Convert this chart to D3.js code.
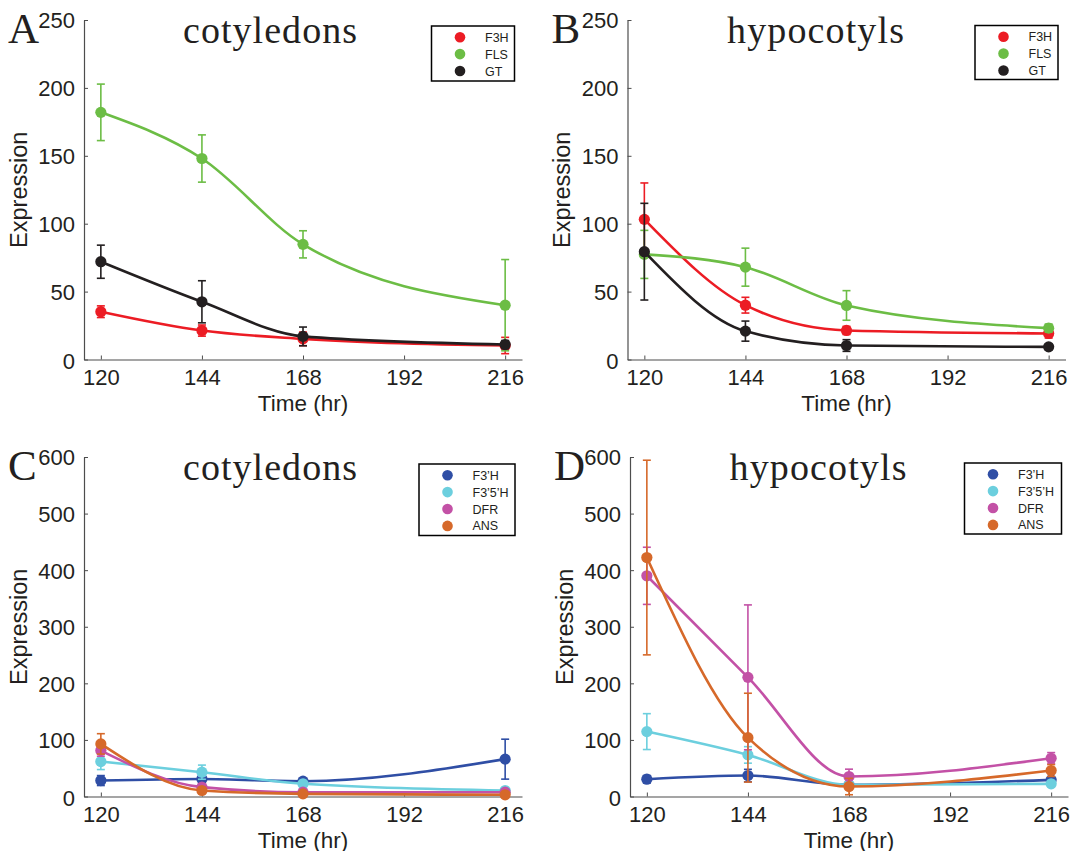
<!DOCTYPE html>
<html>
<head>
<meta charset="utf-8">
<script src="https://cdn.jsdelivr.net/npm/d3@7"></script>
<style>
  body { margin: 0; background: #fff; }
  svg { display: block; }
</style>
</head>
<body>
<div id="chart"></div>
<script>
// sampling times (hr) and axis ticks
const times = [120, 144, 168, 216];
const xTicks = [120, 144, 168, 192, 216];
const yTicksTop = [0, 50, 100, 150, 200, 250];
const yTicksBottom = [0, 100, 200, 300, 400, 500, 600];

const flavGenes = ["F3H", "FLS", "GT"];
const anthoGenes = ["F3\u2019H", "F3\u20195\u2019H", "DFR", "ANS"];

// A: cotyledons, flavonol genes (mean, error)
const cotF3H = [35.2, 21.3, 15.2, 10.3];
const cotF3HErr = [4.3, 4.1, 5, 6];
const cotFLS = [182, 148, 84.8, 40];
const cotFLSErr = [20.8, 17.4, 10, 33.6];
const cotGT = [72, 42.5, 17, 11];
const cotGTErr = [12.2, 15.5, 6.9, 3];

// B: hypocotyls, flavonol genes
const hypF3H = [103.2, 40, 21.4, 19.2];
const hypF3HErr = [26.8, 5.8, 3, 3.4];
const hypFLS = [77.4, 68, 39.8, 23.1];
const hypFLSErr = [17.7, 14, 10.9, 3];
const hypGT = [79.4, 20.9, 10.3, 9.3];
const hypGTErr = [35.6, 7.4, 4.3, 2];

// C: cotyledons, anthocyanin genes
const cotF3pH = [28.2, 31, 27, 66];
const cotF3pHErr = [8.8, 5, 4, 35.3];
const cotF35H = [61.8, 43, 22.4, 10.6];
const cotF35HErr = [14.2, 12.5, 4, 3];
const cotDFR = [81.2, 16.5, 7.6, 7.6];
const cotDFRErr = [10, 4, 2, 2];
const cotANS = [93, 10.6, 4.7, 3];
const cotANSErr = [18, 3, 2, 2];

// D: hypocotyls, anthocyanin genes
const hypF3pH = [30.6, 37, 20.6, 29.4];
const hypF3pHErr = [6.5, 11, 3, 4];
const hypF35H = [114.7, 73.5, 20.6, 22.4];
const hypF35HErr = [31.7, 14.6, 4, 4];
const hypDFR = [390, 210.6, 35.3, 67.6];
const hypDFRErr = [50.5, 128, 13, 10];
const hypANS = [422.3, 104, 17.6, 45.9];
const hypANSErr = [172, 78.5, 14.5, 10.5];

const flavColours = ["#ec1c24", "#6cbd45", "#231f20"];
const anthoColours = ["#2f4ea5", "#6ccfde", "#c351a6", "#d6692a"];

const w = 1071;
const h = 851;

const svg = d3
  .select("#chart")
  .append("svg")
  .attr("width", w)
  .attr("height", h);

const panels = [
  {
    letter: "A", title: "cotyledons", left: 84, top: 20, yMax: 250, yTicks: yTicksTop,
    genes: flavGenes, colours: flavColours,
    means: [cotF3H, cotFLS, cotGT], errs: [cotF3HErr, cotFLSErr, cotGTErr],
    legend: { x: 431.5, y: 26, w: 83, h: 55 }
  },
  {
    letter: "B", title: "hypocotyls", left: 627.5, top: 20, yMax: 250, yTicks: yTicksTop,
    genes: flavGenes, colours: flavColours,
    means: [hypF3H, hypFLS, hypGT], errs: [hypF3HErr, hypFLSErr, hypGTErr],
    legend: { x: 975, y: 25.5, w: 83, h: 54 }
  },
  {
    letter: "C", title: "cotyledons", left: 84, top: 457, yMax: 600, yTicks: yTicksBottom,
    genes: anthoGenes, colours: anthoColours,
    means: [cotF3pH, cotF35H, cotDFR, cotANS], errs: [cotF3pHErr, cotF35HErr, cotDFRErr, cotANSErr],
    legend: { x: 419, y: 464, w: 96, h: 71.5 }
  },
  {
    letter: "D", title: "hypocotyls", left: 630, top: 457, yMax: 600, yTicks: yTicksBottom,
    genes: anthoGenes, colours: anthoColours,
    means: [hypF3pH, hypF35H, hypDFR, hypANS], errs: [hypF3pHErr, hypF35HErr, hypDFRErr, hypANSErr],
    legend: { x: 964.5, y: 463, w: 97, h: 71 }
  }
];

const plotW = 438;
const plotH = 339.5;
const axisColour = "#4d4d4d";
const textColour = "#231f20";
const sans = "'Liberation Sans', Arial, sans-serif";
const serif = "'Liberation Serif', 'Times New Roman', serif";

panels.forEach(drawPanel);

function drawPanel(p) {
  const g = svg.append("g").attr("transform", `translate(${p.left},${p.top})`);

  const xScale = d3.scaleLinear().domain([116, 220]).range([0, plotW]);
  const yScale = d3.scaleLinear().domain([0, p.yMax]).range([plotH, 0]);

  // axes, MATLAB style: inward ticks, no box
  const xAxis = g
    .append("g")
    .attr("transform", `translate(0,${plotH})`)
    .call(d3.axisBottom(xScale).tickValues(xTicks).tickSizeInner(-4).tickSizeOuter(0));
  const yAxis = g
    .append("g")
    .call(d3.axisLeft(yScale).tickValues(p.yTicks).tickSizeInner(-4).tickSizeOuter(0).tickPadding(9));

  [xAxis, yAxis].forEach((ax) => {
    ax.select(".domain").attr("stroke", axisColour).attr("stroke-width", 1.2);
    ax.selectAll(".tick line").attr("stroke", axisColour).attr("stroke-width", 1);
    ax.selectAll(".tick text")
      .attr("fill", textColour)
      .style("font-family", sans)
      .style("font-size", "22px");
  });
  xAxis.selectAll(".tick text").attr("dy", null).attr("y", 25.5);
  yAxis.selectAll(".tick text").attr("dy", (d) => (d === 0 ? "0.42em" : "0.36em"));

  g.append("text")
    .attr("x", plotW / 2)
    .attr("y", plotH + 51)
    .attr("text-anchor", "middle")
    .attr("fill", textColour)
    .style("font-family", sans)
    .style("font-size", "22.5px")
    .text("Time (hr)");

  g.append("text")
    .attr("transform", `translate(-57.5,${plotH / 2}) rotate(-90)`)
    .attr("text-anchor", "middle")
    .attr("fill", textColour)
    .style("font-family", sans)
    .style("font-size", "23.5px")
    .text("Expression");

  // panel letter and title
  svg.append("text")
    .attr("x", p.left - 76)
    .attr("y", p.top + 23)
    .attr("fill", textColour)
    .style("font-family", serif)
    .style("font-size", "43px")
    .text(p.letter);

  g.append("text")
    .attr("x", p.title === "cotyledons" ? 186 : 188)
    .attr("y", 22.5)
    .attr("text-anchor", "middle")
    .attr("fill", textColour)
    .style("font-family", serif)
    .style("font-size", "38px")
    .attr("textLength", p.title === "cotyledons" ? 174 : 177)
    .attr("lengthAdjust", "spacing")
    .text(p.title);

  const line = d3
    .line()
    .x((d) => xScale(d.t))
    .y((d) => yScale(d.v))
    .curve(d3.curveMonotoneX);

  const series = p.genes.map((gene, i) => ({
    gene,
    colour: p.colours[i],
    points: times.map((t, j) => ({ t, v: p.means[i][j], e: p.errs[i][j] }))
  }));

  const s = g
    .selectAll("g.series")
    .data(series)
    .enter()
    .append("g")
    .attr("class", "series");

  s.append("path")
    .attr("d", (d) => line(d.points))
    .attr("fill", "none")
    .attr("stroke", (d) => d.colour)
    .attr("stroke-width", 2.6);

  const bars = s
    .selectAll("g.err")
    .data((d) => d.points.map((pt) => ({ ...pt, colour: d.colour })))
    .enter()
    .append("g")
    .attr("class", "err")
    .attr("stroke", (d) => d.colour)
    .attr("stroke-width", 1.6);

  bars.append("line")
    .attr("x1", (d) => xScale(d.t))
    .attr("x2", (d) => xScale(d.t))
    .attr("y1", (d) => yScale(d.v - d.e))
    .attr("y2", (d) => yScale(d.v + d.e));
  [-1, 1].forEach((sign) => {
    bars.append("line")
      .attr("x1", (d) => xScale(d.t) - 4)
      .attr("x2", (d) => xScale(d.t) + 4)
      .attr("y1", (d) => yScale(d.v + sign * d.e))
      .attr("y2", (d) => yScale(d.v + sign * d.e));
  });

  s.selectAll("circle")
    .data((d) => d.points.map((pt) => ({ ...pt, colour: d.colour })))
    .enter()
    .append("circle")
    .attr("cx", (d) => xScale(d.t))
    .attr("cy", (d) => yScale(d.v))
    .attr("r", 5.6)
    .attr("fill", (d) => d.colour);

  // legend
  const L = p.legend;
  const lg = svg.append("g").attr("transform", `translate(${L.x},${L.y})`);
  lg.append("rect")
    .attr("width", L.w)
    .attr("height", L.h)
    .attr("fill", "#fff")
    .attr("stroke", "#000")
    .attr("stroke-width", 1.5);
  const rowH = 16.9;
  const items = lg
    .selectAll("g.item")
    .data(series)
    .enter()
    .append("g")
    .attr("transform", (d, i) => `translate(0,${11.2 + i * rowH})`);
  items.append("circle")
    .attr("cx", 28.5)
    .attr("r", 5.3)
    .attr("fill", (d) => d.colour);
  items.append("text")
    .attr("x", 53.5)
    .attr("dy", "0.36em")
    .attr("fill", textColour)
    .style("font-family", sans)
    .style("font-size", "12.5px")
    .text((d) => d.gene);
}
</script>
</body>
</html>
